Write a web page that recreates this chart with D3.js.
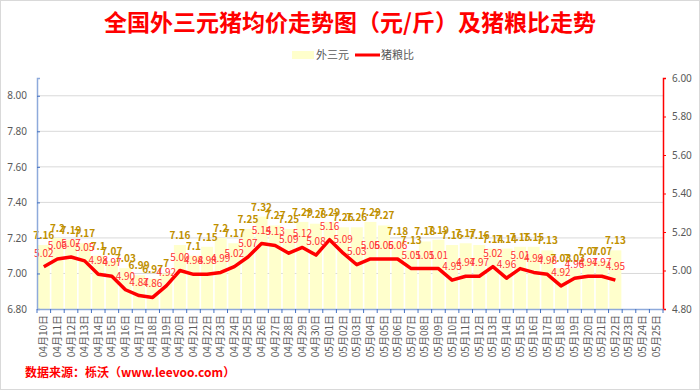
<!DOCTYPE html>
<html>
<head>
<meta charset="utf-8">
<script src="https://cdn.jsdelivr.net/npm/d3@7"></script>
<style>
body { margin: 0; background: #fff; }
text { font-family: "Noto Sans CJK SC", "Noto Sans", sans-serif; }
</style>
</head>
<body>
<script>
var width = 700, height = 390;

// categories: 04月10日 .. 05月25日
var dates = ["04月10日","04月11日","04月12日","04月13日","04月14日","04月15日","04月16日","04月17日","04月18日","04月19日",
             "04月20日","04月21日","04月22日","04月23日","04月24日","04月25日","04月26日","04月27日","04月28日","04月29日","04月30日",
             "05月01日","05月02日","05月03日","05月04日","05月05日","05月06日","05月07日","05月08日","05月09日","05月10日",
             "05月11日","05月12日","05月13日","05月14日","05月15日","05月16日","05月17日","05月18日","05月19日","05月20日",
             "05月21日","05月22日","05月23日","05月24日","05月25日"];

// 外三元 price (元/斤), left axis
var priceValues = [7.16,7.2,7.19,7.17,7.1,7.07,7.03,6.99,6.97,7,
                   7.16,7.1,7.15,7.2,7.17,7.25,7.32,7.27,7.25,7.29,7.28,
                   7.29,7.26,7.26,7.29,7.27,7.18,7.13,7.18,7.19,7.16,
                   7.17,7.16,7.14,7.14,7.15,7.15,7.13,7.03,7.03,7.07,
                   7.07,7.13];

// 猪粮比, right axis
var ratioValues = [5.02,5.06,5.07,5.05,4.98,4.97,4.90,4.87,4.86,4.92,
                   5.00,4.98,4.98,4.99,5.02,5.07,5.14,5.13,5.09,5.12,5.08,
                   5.16,5.09,5.03,5.06,5.06,5.06,5.01,5.01,5.01,4.95,
                   4.97,4.97,5.02,4.96,5.01,4.99,4.98,4.92,4.96,4.97,
                   4.97,4.95];

var leftTicks = [6.8, 7.0, 7.2, 7.4, 7.6, 7.8, 8.0];
var rightTicks = [4.8, 5.0, 5.2, 5.4, 5.6, 5.8, 6.0];

var plotLeft = 37, plotRight = 663, plotTop = 78, plotBottom = 309;

var svg = d3.select("body").append("svg")
    .attr("width", width)
    .attr("height", height);

svg.append("rect")
    .attr("x", 0.5).attr("y", 0.5)
    .attr("width", width - 1).attr("height", height - 1)
    .attr("fill", "#fff")
    .attr("stroke", "#d9d9d9");

var x = d3.scaleBand()
    .domain(dates)
    .range([plotLeft, plotRight])
    .paddingInner(0.12)
    .paddingOuter(0.06);

var yL = d3.scaleLinear().domain([6.8, 8.1]).range([plotBottom, plotTop]);
var yR = d3.scaleLinear().domain([4.8, 6.0]).range([plotBottom, plotTop]);

// title
svg.append("text")
    .attr("x", 350).attr("y", 31)
    .attr("text-anchor", "middle")
    .attr("font-size", 23)
    .attr("font-weight", "bold")
    .attr("fill", "#ff0000")
    .text("全国外三元猪均价走势图（元/斤）及猪粮比走势");

// legend
var legend = svg.append("g");
legend.append("rect")
    .attr("x", 292).attr("y", 51)
    .attr("width", 22).attr("height", 8)
    .attr("fill", "#ffffcc");
legend.append("text")
    .attr("x", 316).attr("y", 59)
    .attr("font-size", 11)
    .attr("fill", "#595959")
    .text("外三元");
legend.append("line")
    .attr("x1", 355).attr("x2", 380)
    .attr("y1", 55).attr("y2", 55)
    .attr("stroke", "#ff0000")
    .attr("stroke-width", 3);
legend.append("text")
    .attr("x", 381).attr("y", 59)
    .attr("font-size", 11)
    .attr("fill", "#595959")
    .text("猪粮比");

// gridlines
svg.append("g").selectAll("line")
    .data(leftTicks.slice(1))
    .join("line")
    .attr("x1", plotLeft).attr("x2", plotRight)
    .attr("y1", d => yL(d)).attr("y2", d => yL(d))
    .attr("stroke", "#d9d9d9")
    .attr("stroke-width", 1);

// bars
var barData = priceValues.map((v, i) => ({date: dates[i], value: v}));
svg.append("g").selectAll("rect")
    .data(barData)
    .join("rect")
    .attr("x", d => x(d.date))
    .attr("y", d => yL(d.value))
    .attr("width", x.bandwidth())
    .attr("height", d => plotBottom - yL(d.value))
    .attr("fill", "#ffffcc");

// line
var lineData = ratioValues.map((v, i) => ({date: dates[i], value: v}));
var line = d3.line()
    .x(d => x(d.date) + x.bandwidth() / 2)
    .y(d => yR(d.value));
svg.append("path")
    .datum(lineData)
    .attr("d", line)
    .attr("fill", "none")
    .attr("stroke", "#ff0000")
    .attr("stroke-width", 3.5)
    .attr("stroke-linejoin", "round");

// bar labels
svg.append("g").selectAll("text")
    .data(barData)
    .join("text")
    .attr("x", d => x(d.date) + x.bandwidth() / 2)
    .attr("y", d => yL(d.value) - 6)
    .attr("text-anchor", "middle")
    .attr("font-size", 10)
    .attr("font-weight", "bold")
    .attr("fill", "#bf9000")
    .text(d => String(d.value));

// line labels
svg.append("g").selectAll("text")
    .data(lineData)
    .join("text")
    .attr("x", d => x(d.date) + x.bandwidth() / 2)
    .attr("y", d => yR(d.value) - 10)
    .attr("text-anchor", "middle")
    .attr("font-size", 10)
    .attr("fill", "#ff3333")
    .text(d => d.value.toFixed(2));

// left axis
var leftAxis = svg.append("g")
    .attr("transform", "translate(" + plotLeft + ",0)")
    .call(d3.axisLeft(yL).tickValues(leftTicks).tickFormat(d3.format(".2f")).tickSize(-3).tickPadding(10));
leftAxis.select(".domain").attr("stroke", "#8eaadb").attr("stroke-width", 1.5);
leftAxis.selectAll(".tick line").attr("stroke", "#4472c4");
leftAxis.selectAll("text").attr("fill", "#595959").attr("font-size", 10)
    .style("font-family", "'Noto Sans', sans-serif");

// right axis
var rightAxis = svg.append("g")
    .attr("transform", "translate(" + plotRight + ",0)")
    .call(d3.axisRight(yR).tickValues(rightTicks).tickFormat(d3.format(".2f")).tickSize(3).tickPadding(6));
rightAxis.select(".domain").attr("stroke", "#ff0000").attr("stroke-width", 1.5);
rightAxis.selectAll(".tick line").attr("stroke", "#ff0000");
rightAxis.selectAll("text").attr("fill", "#595959").attr("font-size", 10)
    .style("font-family", "'Noto Sans', sans-serif");

// bottom axis
var bottomAxis = svg.append("g")
    .attr("transform", "translate(0," + plotBottom + ")")
    .call(d3.axisBottom(x).tickSize(0).tickPadding(6).tickSizeOuter(0));
bottomAxis.select(".domain").attr("stroke", "#8eaadb").attr("stroke-width", 1.5);
bottomAxis.selectAll("text")
    .attr("fill", "#595959")
    .attr("font-size", 10)
    .attr("text-anchor", "end")
    .attr("transform", "rotate(-90)")
    .attr("x", -6)
    .attr("y", 0)
    .attr("dy", "0.35em");

// category separator ticks
svg.append("g").selectAll("line")
    .data(d3.range(dates.length + 1))
    .join("line")
    .attr("x1", i => plotLeft + i * (plotRight - plotLeft) / dates.length)
    .attr("x2", i => plotLeft + i * (plotRight - plotLeft) / dates.length)
    .attr("y1", plotBottom).attr("y2", plotBottom + 4)
    .attr("stroke", "#4472c4");

// source
svg.append("text")
    .attr("x", 25).attr("y", 377)
    .attr("font-size", 12)
    .attr("font-weight", "bold")
    .attr("fill", "#ff0000")
    .text("数据来源：栎沃（www.leevoo.com）");
</script>
</body>
</html>
